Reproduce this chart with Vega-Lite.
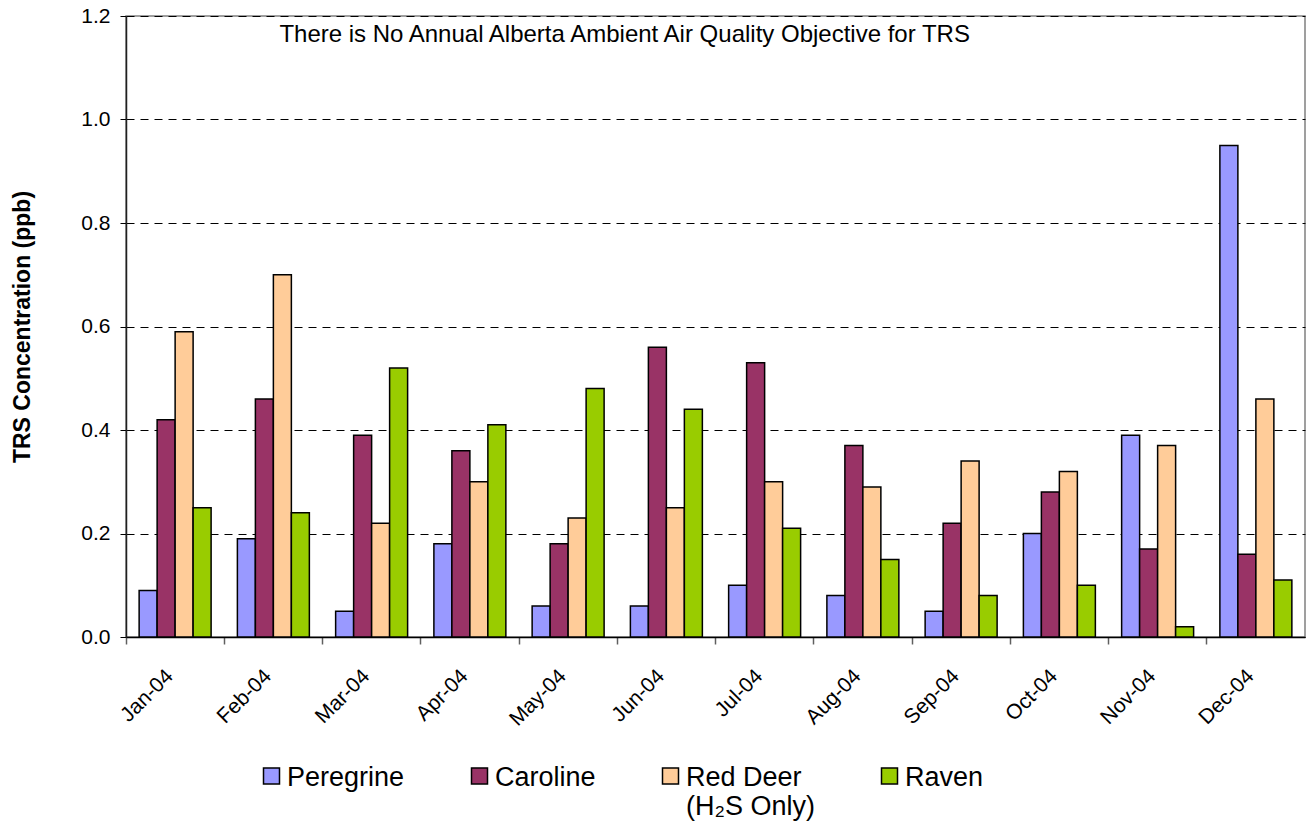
{
  "$schema": "https://vega.github.io/schema/vega-lite/v6.json",
  "autosize": {"type": "none"},
  "width": 1179,
  "height": 621,
  "padding": {"left": 126, "top": 16, "right": 8, "bottom": 187},
  "background": "white",
  "config": {
    "font": "Liberation Sans",
    "view": {"stroke": "#808080", "strokeWidth": 1.5}
  },
  "data": {
    "values": [
      {"month": "Jan-04", "station": "Peregrine", "value": 0.09},
      {"month": "Jan-04", "station": "Caroline", "value": 0.42},
      {"month": "Jan-04", "station": "Red Deer", "value": 0.59},
      {"month": "Jan-04", "station": "Raven", "value": 0.25},
      {"month": "Feb-04", "station": "Peregrine", "value": 0.19},
      {"month": "Feb-04", "station": "Caroline", "value": 0.46},
      {"month": "Feb-04", "station": "Red Deer", "value": 0.70},
      {"month": "Feb-04", "station": "Raven", "value": 0.24},
      {"month": "Mar-04", "station": "Peregrine", "value": 0.05},
      {"month": "Mar-04", "station": "Caroline", "value": 0.39},
      {"month": "Mar-04", "station": "Red Deer", "value": 0.22},
      {"month": "Mar-04", "station": "Raven", "value": 0.52},
      {"month": "Apr-04", "station": "Peregrine", "value": 0.18},
      {"month": "Apr-04", "station": "Caroline", "value": 0.36},
      {"month": "Apr-04", "station": "Red Deer", "value": 0.30},
      {"month": "Apr-04", "station": "Raven", "value": 0.41},
      {"month": "May-04", "station": "Peregrine", "value": 0.06},
      {"month": "May-04", "station": "Caroline", "value": 0.18},
      {"month": "May-04", "station": "Red Deer", "value": 0.23},
      {"month": "May-04", "station": "Raven", "value": 0.48},
      {"month": "Jun-04", "station": "Peregrine", "value": 0.06},
      {"month": "Jun-04", "station": "Caroline", "value": 0.56},
      {"month": "Jun-04", "station": "Red Deer", "value": 0.25},
      {"month": "Jun-04", "station": "Raven", "value": 0.44},
      {"month": "Jul-04", "station": "Peregrine", "value": 0.10},
      {"month": "Jul-04", "station": "Caroline", "value": 0.53},
      {"month": "Jul-04", "station": "Red Deer", "value": 0.30},
      {"month": "Jul-04", "station": "Raven", "value": 0.21},
      {"month": "Aug-04", "station": "Peregrine", "value": 0.08},
      {"month": "Aug-04", "station": "Caroline", "value": 0.37},
      {"month": "Aug-04", "station": "Red Deer", "value": 0.29},
      {"month": "Aug-04", "station": "Raven", "value": 0.15},
      {"month": "Sep-04", "station": "Peregrine", "value": 0.05},
      {"month": "Sep-04", "station": "Caroline", "value": 0.22},
      {"month": "Sep-04", "station": "Red Deer", "value": 0.34},
      {"month": "Sep-04", "station": "Raven", "value": 0.08},
      {"month": "Oct-04", "station": "Peregrine", "value": 0.20},
      {"month": "Oct-04", "station": "Caroline", "value": 0.28},
      {"month": "Oct-04", "station": "Red Deer", "value": 0.32},
      {"month": "Oct-04", "station": "Raven", "value": 0.10},
      {"month": "Nov-04", "station": "Peregrine", "value": 0.39},
      {"month": "Nov-04", "station": "Caroline", "value": 0.17},
      {"month": "Nov-04", "station": "Red Deer", "value": 0.37},
      {"month": "Nov-04", "station": "Raven", "value": 0.02},
      {"month": "Dec-04", "station": "Peregrine", "value": 0.95},
      {"month": "Dec-04", "station": "Caroline", "value": 0.16},
      {"month": "Dec-04", "station": "Red Deer", "value": 0.46},
      {"month": "Dec-04", "station": "Raven", "value": 0.11}
    ]
  },
  "layer": [
    {
      "mark": {"type": "bar", "stroke": "black", "strokeWidth": 1.5},
      "encoding": {
        "x": {
          "field": "month", "type": "nominal", "sort": null,
          "scale": {"paddingInner": 0, "paddingOuter": 0},
          "axis": {
            "title": null, "labelAngle": -45, "labelFontSize": 21, "labelColor": "black",
            "labelAlign": "right", "labelBaseline": "top",
            "labelPadding": 21, "labelOffset": -13,
            "bandPosition": 0, "tickSize": 7, "tickColor": "#606060", "tickWidth": 1.5,
            "domainColor": "black", "domainWidth": 1.5, "grid": false
          }
        },
        "xOffset": {
          "field": "station", "type": "nominal",
          "sort": ["Peregrine", "Caroline", "Red Deer", "Raven"],
          "scale": {"paddingInner": 0, "paddingOuter": 0.73}
        },
        "y": {
          "field": "value", "type": "quantitative",
          "scale": {"domain": [0, 1.2]},
          "axis": {
            "title": "TRS Concentration (ppb)", "titleFontSize": 23, "titleFontWeight": "bold",
            "titleColor": "black", "titlePadding": 46,
            "values": [0, 0.2, 0.4, 0.6, 0.8, 1.0, 1.2], "format": ".1f",
            "labelFontSize": 21, "labelColor": "black", "labelPadding": 10,
            "tickSize": 6, "tickColor": "black", "tickWidth": 1,
            "domainColor": "#202020", "domainWidth": 1.5,
            "grid": true, "gridColor": "black", "gridDash": [8, 6], "gridWidth": 1
          }
        },
        "color": {
          "field": "station", "type": "nominal",
          "sort": ["Peregrine", "Caroline", "Red Deer", "Raven"],
          "scale": {
            "domain": ["Peregrine", "Caroline", "Red Deer", "Raven"],
            "range": ["#9999FF", "#993366", "#FFCC99", "#99CC00"]
          },
          "legend": {
            "title": null, "orient": "none", "direction": "horizontal",
            "legendX": 132, "legendY": 756, "padding": 0,
            "symbolType": "M-1,-2.2H1V-0.2H-1Z", "symbolSize": 256, "symbolStrokeColor": "black",
            "symbolStrokeWidth": 1.5, "symbolOpacity": 1,
            "labelFontSize": 27, "labelColor": "black", "labelOffset": 2,
            "labelLimit": 300, "columnPadding": 61, "gridAlign": "none",
            "labelBaseline": "alphabetic",
            "labelExpr": "datum.label == 'Red Deer' ? ['Red Deer', '(H₂S Only)'] : [datum.label, ' ']"
          }
        }
      }
    },
    {
      "data": {"values": [{"note": "There is No Annual Alberta Ambient Air Quality Objective for TRS"}]},
      "mark": {"type": "text", "align": "left", "baseline": "alphabetic", "fontSize": 24, "dx": 6, "fill": "black"},
      "encoding": {
        "x": {"datum": "Feb-04", "type": "nominal"},
        "y": {"datum": 1.15, "type": "quantitative"},
        "text": {"field": "note", "type": "nominal"}
      }
    }
  ]
}
